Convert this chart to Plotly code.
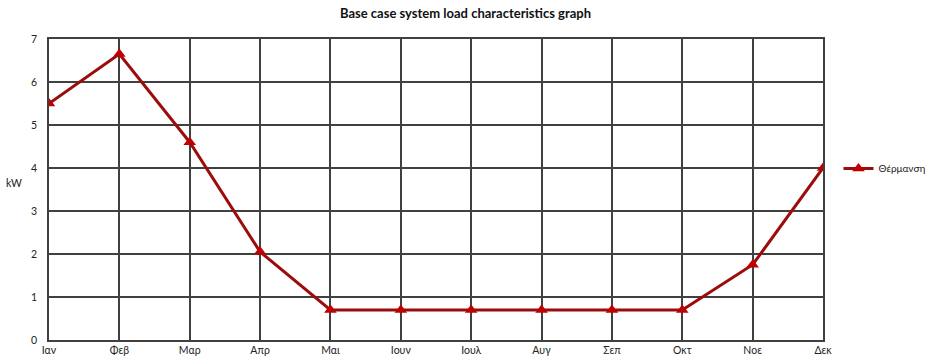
import plotly.graph_objects as go

months = ["Ιαν", "Φεβ", "Μαρ", "Απρ", "Μαι", "Ιουν", "Ιουλ", "Αυγ", "Σεπ", "Οκτ", "Νοε", "Δεκ"]
heating_kw = [5.5, 6.65, 4.6, 2.05, 0.7, 0.7, 0.7, 0.7, 0.7, 0.7, 1.75, 4.0]
series_name = "Θέρμανση"
title_text = "Base case system load characteristics graph"

FONT = "Lato, Carlito, 'Liberation Sans', sans-serif"
GRID = "#404040"

fig = go.Figure()
fig.add_trace(go.Scatter(
    x=months,
    y=heating_kw,
    mode="lines+markers",
    name=series_name,
    line=dict(color="#9b0d0d", width=3),
    marker=dict(symbol="triangle-up", size=11, color="#c00000"),
))

fig.update_layout(
    width=931,
    height=362,
    margin=dict(l=49, r=108, t=39, b=22, autoexpand=False),
    paper_bgcolor="white",
    plot_bgcolor="white",
    font=dict(family=FONT, size=10, color="#222222"),
    title=dict(
        text="<b>" + title_text + "</b>",
        x=0.5, xanchor="center", xref="container",
        y=0.963, yanchor="middle",
        font=dict(family=FONT, size=13, color="#111111"),
    ),
    showlegend=True,
    legend=dict(
        x=1.02, xanchor="left", y=0.57, yanchor="middle",
        itemwidth=30,
        font=dict(family=FONT, size=10, color="#222222"),
        bgcolor="rgba(0,0,0,0)",
    ),
    xaxis=dict(
        type="category",
        range=[0, 11],
        automargin=False,
        showgrid=True, gridcolor=GRID, gridwidth=1.5,
        showline=True, linecolor=GRID, linewidth=1.5, mirror=True,
        ticks="", tickfont=dict(family=FONT, size=10.5, color="#222222"),
        zeroline=False,
    ),
    yaxis=dict(
        range=[0, 7], dtick=1,
        automargin=False,
        showgrid=True, gridcolor=GRID, gridwidth=1.5,
        showline=True, linecolor=GRID, linewidth=1.5, mirror=True,
        ticks="", ticklabelstandoff=8,
        tickfont=dict(family=FONT, size=10.5, color="#222222"),
        zeroline=False,
    ),
    annotations=[dict(
        text="kW", xref="paper", yref="paper",
        x=-0.045, y=0.52, xanchor="center", yanchor="middle",
        showarrow=False, font=dict(family=FONT, size=10.5, color="#222222"),
    )],
)

fig.write_html("out.html")
